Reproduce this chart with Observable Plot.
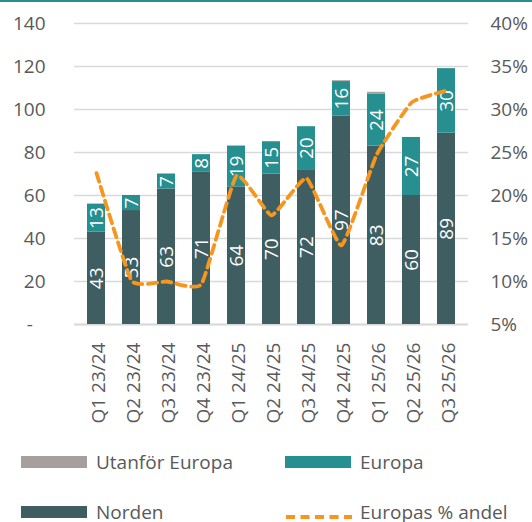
<!DOCTYPE html>
<html>
<head>
<meta charset="utf-8">
<script src="https://cdn.jsdelivr.net/npm/d3@7"></script>
<script src="https://cdn.jsdelivr.net/npm/@observablehq/plot@0.6"></script>
<style>
  html, body { margin: 0; padding: 0; background: #fff; }
  #wrap { position: relative; width: 532px; height: 522px; overflow: hidden; font-family: "Open Sans", sans-serif; color: #595959; }
  #topline { position: absolute; left: 0; top: 0; width: 532px; height: 2px; background: #2A8F8C; }
  #chart { position: absolute; left: 0; top: 0; }
  .lg { position: absolute; font-size: 19px; line-height: 24px; color: #595959; white-space: nowrap; }
  .sw { position: absolute; }
</style>
</head>
<body>
<div id="wrap">
  <div id="chart"></div>
  <div id="topline"></div>
  <div id="legend"></div>
</div>
<script>
// ---- data ----
const quarters = ["Q1 23/24","Q2 23/24","Q3 23/24","Q4 23/24","Q1 24/25","Q2 24/25","Q3 24/25","Q4 24/25","Q1 25/26","Q2 25/26","Q3 25/26"];
const norden   = [43, 53, 63, 71, 64, 70, 72, 97, 83, 60, 89];
const europa   = [13, 7, 7, 8, 19, 15, 20, 16, 24, 27, 30];
const utanfor  = [0, 0, 0, 0, 0, 0, 0, 0.4, 1, 0, 0];
const europaPct = [22.6, 10.1, 10.0, 9.7, 22.3, 17.7, 22.0, 14.2, 24.7, 30.8, 32.2];
const leftTicks = [0, 20, 40, 60, 80, 100, 120, 140];
const rightTicks = ["5%","10%","15%","20%","25%","30%","35%","40%"];
const seriesNames = ["Norden", "Europa", "Utanför Europa"];
const seriesColors = ["#3E5E61", "#268F8F", "#A5A09E"];
const lineName = "Europas % andel";
const lineColor = "#F6961E";

// ---- build tables ----
const rows = [];
quarters.forEach((q, i) => {
  rows.push({q, s: seriesNames[0], v: norden[i]});
  rows.push({q, s: seriesNames[1], v: europa[i]});
  rows.push({q, s: seriesNames[2], v: utanfor[i]});
});
const labels = [];
quarters.forEach((q, i) => {
  labels.push({q, y: norden[i] / 2, t: String(norden[i])});
  labels.push({q, y: norden[i] + europa[i] / 2, t: String(europa[i])});
});
// right axis 5%..40% maps onto left 0..140
const pctToLeft = p => (p - 5) * 140 / 35;
const linePts = quarters.map((q, i) => ({q, y: pctToLeft(europaPct[i])}));

const plot = Plot.plot({
  width: 532,
  height: 440,
  marginLeft: 74,
  marginRight: 64,
  marginTop: 23,
  marginBottom: 116,
  style: {fontFamily: "'Open Sans', sans-serif", fontSize: "19px", color: "#595959", background: "transparent"},
  x: {type: "band", domain: quarters, paddingInner: 0.5, paddingOuter: 0.25, axis: null},
  y: {domain: [0, 140], axis: null},
  color: {domain: seriesNames, range: seriesColors},
  marks: [
    Plot.gridY(leftTicks, {stroke: "#D9D9D9", strokeOpacity: 1, strokeWidth: 1.3}),
    Plot.ruleY([0], {stroke: "#D9D9D9", strokeWidth: 2}),
    Plot.axisY({anchor: "left", ticks: leftTicks, tickSize: 0, tickPadding: 29, fontSize: 19,
      tickFormat: d => d === 0 ? "-\u2002\u2009" : String(d)}),
    Plot.axisY({anchor: "right", ticks: leftTicks, tickSize: 0, tickPadding: 22, fontSize: 19,
      tickFormat: (d, i) => rightTicks[i]}),
    Plot.barY(rows, {x: "q", y: "v", fill: "s", order: seriesNames}),
    Plot.text(labels, {x: "q", y: "y", text: "t", rotate: -90, fill: "white", fontSize: 19, textAnchor: "middle", lineAnchor: "middle"}),
    Plot.line(linePts, {x: "q", y: "y", stroke: lineColor, strokeWidth: 3.8, strokeDasharray: "9,5.5", curve: "cardinal", tension: 0.6}),
    Plot.text(quarters, {x: d => d, frameAnchor: "bottom", dy: 18, dx: 2, rotate: -90, textAnchor: "end", lineAnchor: "middle", fontSize: 19, fill: "#595959"})
  ]
});
document.getElementById("chart").appendChild(plot);

// ---- legend ----
const legendItems = [
  {name: seriesNames[2], color: seriesColors[2], type: "box", x: 21, y: 456},
  {name: seriesNames[1], color: seriesColors[1], type: "box", x: 285, y: 456},
  {name: seriesNames[0], color: seriesColors[0], type: "box", x: 21, y: 506},
  {name: lineName, color: lineColor, type: "dash", x: 285, y: 506}
];
const lg = document.getElementById("legend");
legendItems.forEach(it => {
  const sw = document.createElement("div");
  sw.className = "sw";
  sw.style.left = it.x + "px";
  if (it.type === "box") {
    sw.style.top = it.y + "px";
    sw.style.width = "66px";
    sw.style.height = "12px";
    sw.style.background = it.color;
  } else {
    sw.innerHTML = `<svg width="68" height="12"><line x1="1" x2="67" y1="6" y2="6" stroke="${it.color}" stroke-width="3.8" stroke-dasharray="9,5.5"/></svg>`;
    sw.style.top = (it.y) + "px";
  }
  lg.appendChild(sw);
  const t = document.createElement("div");
  t.className = "lg";
  t.textContent = it.name;
  t.style.left = (it.x + 75) + "px";
  t.style.top = (it.y - 6) + "px";
  lg.appendChild(t);
});
</script>
</body>
</html>
